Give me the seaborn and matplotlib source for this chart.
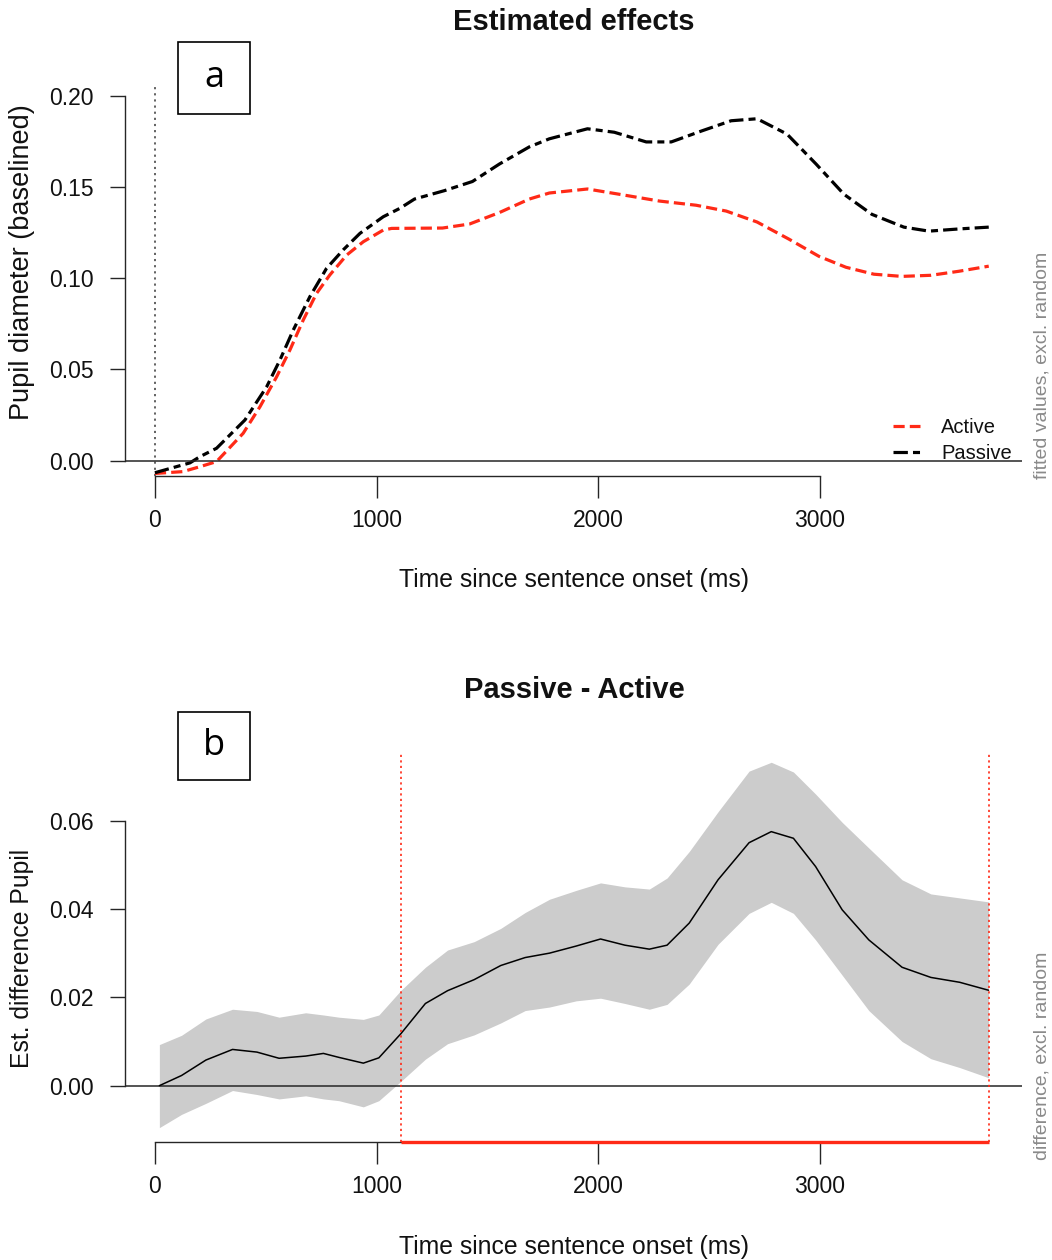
import numpy as np
import pandas as pd
import matplotlib
matplotlib.use("Agg")
import matplotlib.pyplot as plt
import seaborn as sns
from matplotlib.patches import Rectangle

# ---------------- data ----------------
time_active = [0, 126, 203, 278, 398, 474, 549, 609, 669, 729, 789, 865, 940, 1030, 1068, 1297,
               1419, 1554, 1689, 1779, 1951, 2095, 2275, 2441, 2577, 2716, 2860, 2995, 3117, 3243,
               3369, 3500, 3626, 3761]
pupil_active = [-0.0070, -0.0060, -0.0033, -0.0005, 0.0150, 0.0296, 0.0460, 0.0607, 0.0771, 0.0917,
                0.1018, 0.1127, 0.1200, 0.1264, 0.1273, 0.1275, 0.1297, 0.1360, 0.1434, 0.1467,
                0.1489, 0.1460, 0.1423, 0.1400, 0.1368, 0.1308, 0.1214, 0.1120, 0.1060, 0.1022,
                0.1010, 0.1016, 0.1038, 0.1066]

time_passive = [0, 158, 203, 278, 406, 504, 564, 624, 699, 774, 849, 925, 1030, 1105, 1171, 1306,
                1432, 1554, 1689, 1779, 1951, 2072, 2216, 2329, 2468, 2599, 2716, 2851, 2982, 3108,
                3234, 3378, 3491, 3626, 3761]
pupil_passive = [-0.0066, -0.0012, 0.0022, 0.0068, 0.0223, 0.0405, 0.0552, 0.0716, 0.0899, 0.1054,
                 0.1155, 0.1246, 0.1337, 0.1383, 0.1434, 0.1480, 0.1530, 0.1626, 0.1720, 0.1764,
                 0.1819, 0.1800, 0.1747, 0.1747, 0.1808, 0.1863, 0.1874, 0.1790, 0.1626, 0.1460,
                 0.1350, 0.1280, 0.1258, 0.1270, 0.1280]

time_diff = [20, 120, 230, 350, 460, 560, 680, 760, 830, 940, 1010, 1110, 1220, 1320, 1440, 1560,
             1670, 1780, 1900, 2010, 2120, 2230, 2310, 2410, 2540, 2680, 2780, 2880, 2980, 3100,
             3220, 3370, 3500, 3630, 3760]
diff_est = [0.0000, 0.0023, 0.0058, 0.0082, 0.0076, 0.0062, 0.0067, 0.0073, 0.0064, 0.0051, 0.0063,
            0.0118, 0.0186, 0.0215, 0.0240, 0.0272, 0.0290, 0.0300, 0.0316, 0.0332, 0.0318, 0.0309,
            0.0318, 0.0368, 0.0466, 0.0550, 0.0575, 0.0560, 0.0496, 0.0398, 0.0330, 0.0268, 0.0245,
            0.0234, 0.0216]
diff_upper = [0.0093, 0.0114, 0.0151, 0.0173, 0.0168, 0.0155, 0.0165, 0.0160, 0.0155, 0.0150, 0.0160,
              0.0216, 0.0268, 0.0307, 0.0326, 0.0356, 0.0392, 0.0422, 0.0442, 0.0459, 0.0450, 0.0445,
              0.0470, 0.0530, 0.0620, 0.0712, 0.0732, 0.0710, 0.0660, 0.0596, 0.0538, 0.0466, 0.0434,
              0.0425, 0.0416]
diff_lower = [-0.0095, -0.0065, -0.0040, -0.0011, -0.0020, -0.0030, -0.0023, -0.0030, -0.0034, -0.0048,
              -0.0034, 0.0010, 0.0060, 0.0095, 0.0115, 0.0142, 0.0170, 0.0178, 0.0192, 0.0198, 0.0186,
              0.0173, 0.0184, 0.0230, 0.0320, 0.0390, 0.0415, 0.0390, 0.0330, 0.0250, 0.0170, 0.0100,
              0.0061, 0.0041, 0.0018]

sig_window = [1112, 3760]
x_ticks = [0, 1000, 2000, 3000]
top_yticks = [0.00, 0.05, 0.10, 0.15, 0.20]
bot_yticks = [0.00, 0.02, 0.04, 0.06]
series_labels = ["Active", "Passive"]

# ---------------- style ----------------
sns.set_theme(style="white")
plt.rcParams['font.family'] = ['Liberation Sans', 'DejaVu Sans']

RED = '#FF2A17'
AX = '#262626'
W, H = 1052, 1260
fig = plt.figure(figsize=(W / 100, H / 100), dpi=100)


def rect(l, r, t, b):
    return [l / W, 1 - b / H, (r - l) / W, (b - t) / H]


ax1 = fig.add_axes(rect(125, 1022, 87, 476))
ax2 = fig.add_axes(rect(125, 1022, 753, 1142))

XL = (-135, 3911)


def style_axis(ax, yticks, ylim):
    ax.set_xlim(*XL)
    ax.set_ylim(*ylim)
    for s in ['top', 'right']:
        ax.spines[s].set_visible(False)
    for s in ['left', 'bottom']:
        ax.spines[s].set_color(AX)
        ax.spines[s].set_linewidth(1.0)
    ax.spines['left'].set_bounds(yticks[0], yticks[-1])
    ax.spines['bottom'].set_bounds(x_ticks[0], x_ticks[-1])
    ax.set_xticks(x_ticks)
    ax.set_xticklabels([str(v) for v in x_ticks])
    ax.set_yticks(yticks)
    ax.set_yticklabels([f"{v:.2f}" for v in yticks])
    ax.tick_params(axis='y', direction='out', length=10.8, width=1.0, color=AX,
                   pad=12, labelsize=16.5, labelcolor='#111111', left=True)
    ax.tick_params(axis='x', direction='out', length=16, width=1.0, color=AX,
                   pad=8, labelsize=16.5, labelcolor='#111111', bottom=True)
    ax.set_xlabel("")
    ax.set_ylabel("")
    ax.axhline(0, color=AX, lw=1.1, zorder=3)
    ax.patch.set_alpha(0)


# ---------------- panel a ----------------
df_a = pd.DataFrame({'time': time_active, 'pupil': pupil_active})
df_p = pd.DataFrame({'time': time_passive, 'pupil': pupil_passive})
ax1.axvline(0, color='#555555', lw=1.3, ls=(0, (1.2, 2.2)), zorder=2)
sns.lineplot(data=df_a, x='time', y='pupil', ax=ax1, color=RED, lw=2.3, label=series_labels[0])
sns.lineplot(data=df_p, x='time', y='pupil', ax=ax1, color='black', lw=2.3, label=series_labels[1])
ax1.lines[-2].set_dashes((3.5, 1.6))
ax1.lines[-1].set_dashes((4.5, 1.6, 2.2, 1.6))
style_axis(ax1, top_yticks, (-0.0084, 0.2048))
leg = ax1.legend(loc='upper left', bbox_to_anchor=(893 / W, 1 - 418 / H),
                 bbox_transform=fig.transFigure, frameon=False, fontsize=14.5,
                 handlelength=1.35, handletextpad=1.05, labelspacing=0.35,
                 borderpad=0, borderaxespad=0)
for t in leg.get_texts():
    t.set_color('#111111')

# ---------------- panel b ----------------
df_d = pd.DataFrame({'time': time_diff, 'est': diff_est})
ax2.fill_between(time_diff, diff_lower, diff_upper, color='#CCCCCC', lw=0, zorder=1)
sns.lineplot(data=df_d, x='time', y='est', ax=ax2, color='black', lw=1.1, zorder=4)
for xv in sig_window:
    ax2.axvline(xv, color=RED, lw=1.2, ls=(0, (1.3, 2.0)), zorder=5)
style_axis(ax2, bot_yticks, (-0.01275, 0.0753))
ax2.hlines(0, sig_window[0], sig_window[1], transform=ax2.get_xaxis_transform(),
           color=RED, lw=2.4, zorder=6, clip_on=False)

# ---------------- texts ----------------
fig.text(574 / W, 1 - 22 / H, "Estimated effects", ha='center', va='center',
         fontsize=21, fontweight='bold', color='#111111')
fig.text(574 / W, 1 - 690 / H, "Passive - Active", ha='center', va='center',
         fontsize=21, fontweight='bold', color='#111111')
fig.text(574 / W, 1 - 580 / H, "Time since sentence onset (ms)", ha='center', va='center',
         fontsize=17.8, color='#111111')
fig.text(574 / W, 1 - 1247 / H, "Time since sentence onset (ms)", ha='center', va='center',
         fontsize=17.8, color='#111111')
fig.text(22 / W, 1 - 262 / H, "Pupil diameter (baselined)", ha='center', va='center',
         rotation=90, fontsize=19.5, color='#111111')
fig.text(22 / W, 1 - 958 / H, "Est. difference Pupil", ha='center', va='center',
         rotation=90, fontsize=17.8, color='#111111')
fig.text(1042 / W, 1 - 479 / H, "fitted values, excl. random", ha='center', va='bottom',
         rotation=90, fontsize=14, color='#8a8a8a')
fig.text(1042 / W, 1 - 1160 / H, "difference, excl. random", ha='center', va='bottom',
         rotation=90, fontsize=14, color='#8a8a8a')

# panel label boxes
for lab, top, bot in [("a", 42, 114), ("b", 712, 780)]:
    fig.add_artist(Rectangle((178 / W, 1 - bot / H), 72 / W, (bot - top) / H,
                             transform=fig.transFigure, fill=False, ec='black', lw=1.2))
    fig.text(214 / W, 1 - (top + bot) / 2 / H, lab, ha='center', va='center',
             fontsize=26, family=['Open Sans', 'DejaVu Sans'], color='black')

fig.savefig("out.png", dpi=100)
